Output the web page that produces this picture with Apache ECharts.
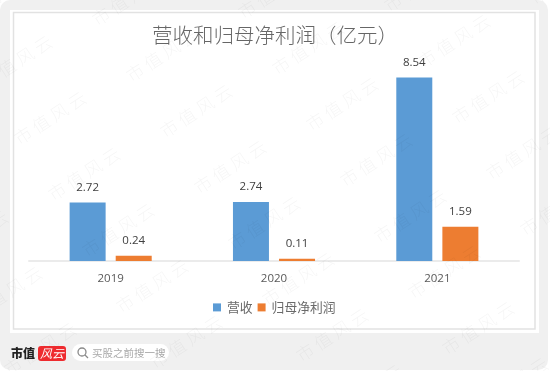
<!DOCTYPE html>
<html><head><meta charset="utf-8">
<style>html,body{margin:0;padding:0;background:#fff}#c{width:550px;height:371px}</style>
<script src="https://cdn.jsdelivr.net/npm/echarts@6/dist/echarts.min.js"></script>
</head><body><div id="c"></div>
<script>
const categories = ['2019', '2020', '2021'];
const revenue = [2.72, 2.74, 8.54];
const netProfit = [0.24, 0.11, 1.59];
const chartTitle = '营收和归母净利润（亿元）';
const seriesNames = ['营收', '归母净利润'];
const watermarkText = '市 值 风 云';
const brandText = '市值';
const brandBadge = '风云';
const searchHint = '买股之前搜一搜';
const CJK = '"Noto Sans CJK SC","Noto Sans",sans-serif';
const LATIN = '"Open Sans","Noto Sans",sans-serif';

const watermarks = [];
for (let i = -2; i <= 5; i++) for (let j = -3; j <= 6; j++) {
  const x = 50 + 146 * i + 34 * j, y = 118 - 7 * i + 56 * j;
  if (x < -50 || x > 600 || y < -30 || y > 400) continue;
  watermarks.push({type:'text', x, y, rotation: 33 * Math.PI / 180, z: 100, silent: true,
    style:{text: watermarkText, fontSize: 17.5, fontFamily: CJK, fontWeight: 300, fill:'rgba(0,0,0,0.04)', align:'center', verticalAlign:'middle'}});
}

const chart = echarts.init(document.getElementById('c'), null, {renderer:'canvas'});
chart.setOption({
  animation:false,
  backgroundColor:'#fff',
  title:{text:chartTitle, left:152, top:21, padding:0,
    textStyle:{fontFamily:CJK, fontSize:20.5, fontWeight:300, color:'#666', lineHeight:29}},
  legend:{data:seriesNames, left:213, top:301, padding:0, itemWidth:8, itemHeight:8, itemGap:5, icon:'rect',
    textStyle:{fontFamily:CJK, fontSize:12.8, color:'#6a6a6a', padding:[0,0,0,1]}},
  grid:{left:29, width:490, top:46, height:215},
  xAxis:{type:'category', data:categories,
    axisLine:{lineStyle:{color:'#ebebeb', width:2}}, axisTick:{show:false},
    axisLabel:{fontFamily:LATIN, fontSize:11.5, color:'#595959', margin:12}},
  yAxis:{type:'value', min:0, max:10, show:false, splitLine:{show:false}},
  series:[
    {name:seriesNames[0], type:'bar', data:revenue, barWidth:36, barGap:'28%',
     itemStyle:{color:'#5b9bd5'}, label:{show:true, position:'top', distance:9, fontFamily:LATIN, fontSize:11.5, color:'#404040', formatter:p=>p.value.toFixed(2)}},
    {name:seriesNames[1], type:'bar', data:netProfit, barWidth:36,
     itemStyle:{color:'#ed7d31'}, label:{show:true, position:'top', distance:9, fontFamily:LATIN, fontSize:11.5, color:'#404040', formatter:p=>p.value.toFixed(2)}}
  ],
  graphic:{elements:[
    {type:'rect', z:-10, silent:true, shape:{x:0,y:0,width:548,height:370,r:10}, style:{fill:'#f0f0f0'}},
    {type:'rect', z:-9, silent:true, shape:{x:10,y:10,width:529,height:323}, style:{fill:'#fff'}},
    {type:'rect', z:-8, silent:true, shape:{x:13.5,y:12.5,width:521.5,height:316.5}, style:{fill:'#fff',stroke:'#e2e2e2',lineWidth:1.5}},
    {type:'text', z:50, x:11, y:353, style:{text:brandText, fontFamily:CJK, fontSize:12, fontWeight:900, fill:'#222', verticalAlign:'middle'}},
    {type:'rect', z:50, shape:{x:38,y:346,width:28,height:15,r:3}, style:{fill:'#ee2b2f'}},
    {type:'text', z:51, x:52, y:353.5, style:{text:brandBadge, fontFamily:CJK, fontSize:12, fontStyle:'italic', fill:'#fff', align:'center', verticalAlign:'middle'}},
    {type:'rect', z:50, shape:{x:72,y:344,width:97,height:17,r:8.5}, style:{fill:'#fff'}},
    {type:'circle', z:51, shape:{cx:82,cy:352,r:4}, style:{fill:'none',stroke:'#8a8a8a',lineWidth:1.3}},
    {type:'line', z:51, shape:{x1:85,y1:355,x2:88,y2:358}, style:{stroke:'#8a8a8a',lineWidth:1.3}},
    {type:'text', z:51, x:92, y:353, style:{text:searchHint, fontFamily:CJK, fontSize:10.5, fill:'#a8a8a8', verticalAlign:'middle'}},
    ...watermarks
  ]}
});
</script></body></html>
